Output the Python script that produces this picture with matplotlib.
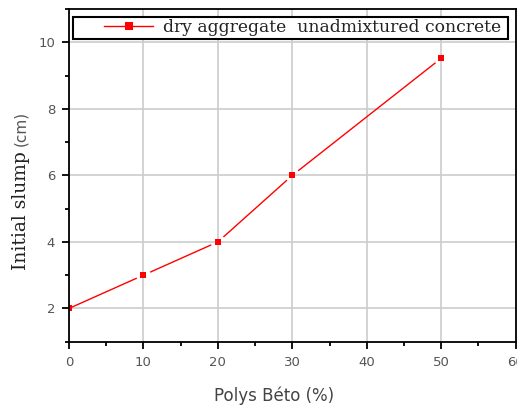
import numpy as np
import matplotlib
matplotlib.use("Agg")
import matplotlib.pyplot as plt
from matplotlib.ticker import MultipleLocator
from matplotlib.lines import Line2D
from matplotlib.patches import Rectangle

polys_beto = [0, 10, 20, 30, 50]
slump = [2.0, 3.0, 4.0, 6.0, 9.52]
series_label = "dry aggregate  unadmixtured concrete"

tick_gray = "#555555"
red = "#ff0000"

fig = plt.figure(figsize=(5.17, 4.08), dpi=100)
ax = fig.add_axes([0.1335, 0.1625, 0.864, 0.8155])

ax.set_xlim(0, 60)
ax.set_ylim(1, 11)
ax.xaxis.set_major_locator(MultipleLocator(10))
ax.xaxis.set_minor_locator(MultipleLocator(5))
ax.yaxis.set_major_locator(MultipleLocator(2))
ax.yaxis.set_minor_locator(MultipleLocator(1))
ax.grid(True, which="major", color="#cccccc", linewidth=1.2)
ax.set_axisbelow(True)

for side in ["left", "bottom", "right", "top"]:
    ax.spines[side].set_linewidth(1.3)
    ax.spines[side].set_color("black")

ax.tick_params(axis="both", which="major", direction="out", length=5, width=1.3,
               labelsize=9.5, labelcolor=tick_gray, pad=5)
ax.tick_params(axis="both", which="minor", direction="out", length=3, width=1.3)
ax.tick_params(top=False, right=False)

# line segments stop short of each marker (Origin style gaps)
fig.canvas.draw()
pts = ax.transData.transform(np.column_stack([polys_beto, slump]))
gap = 8.0
for i, (p0, p1) in enumerate(zip(pts[:-1], pts[1:])):
    d = p1 - p0
    n = d / np.hypot(*d)
    a = p0 + n * (gap if i > 0 else 1.0)
    b = p1 - n * gap
    seg = ax.transData.inverted().transform(np.array([a, b]))
    ax.plot(seg[:, 0], seg[:, 1], color=red, linewidth=1.0)
ax.plot(polys_beto, slump, linestyle="none", marker="s", markersize=4.5,
        color=red, markeredgewidth=0)

# legend box like Origin: wide frame, handle indented
box = Rectangle((0.009, 0.9095), 0.974, 0.0665, transform=ax.transAxes,
                facecolor="white", edgecolor="black", linewidth=1.5, zorder=5)
ax.add_patch(box)
handle = Line2D([], [], color=red, linewidth=1.0, marker="s", markersize=5.5,
                markeredgewidth=0)
leg = ax.legend([handle], [series_label], loc="center left",
                bbox_to_anchor=(0.078, 0.943), frameon=False,
                handlelength=2.9, handletextpad=0.55, borderaxespad=0, borderpad=0,
                prop={"family": "DejaVu Serif", "size": 12.3})
leg.set_zorder(6)
for t in leg.get_texts():
    t.set_color("#222222")

# y label: serif part + sans part like the original
fig.text(0.040, 0.483, "Initial slump", rotation=90, ha="center", va="center",
         family="DejaVu Serif", fontsize=13.5, color="#222222")
fig.text(0.040, 0.686, "(cm)", rotation=90, ha="center", va="center",
         family="DejaVu Sans", fontsize=11, color=tick_gray)

ax.set_xlabel("Polys Béto (%)", family="DejaVu Sans", fontsize=12, color="#444444")
ax.xaxis.label.set_va("center")
ax.xaxis.set_label_coords(0.459, -0.161)

fig.savefig("out.png", dpi=100)
